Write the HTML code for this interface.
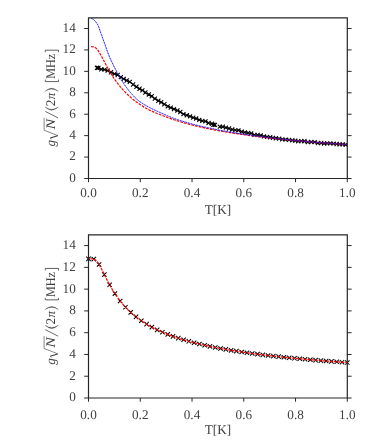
<!DOCTYPE html>
<html>
<head>
<meta charset="utf-8">
<title>g sqrt(N) vs T</title>
<style>
html, body { margin: 0; padding: 0; background: #ffffff; }
body { width: 374px; height: 442px; overflow: hidden; font-family: "Liberation Serif", serif; }
svg { display: block; }
svg text { font-family: "Liberation Serif", serif; font-size: 13.2px; fill: #414141; text-rendering: geometricPrecision; }
</style>
</head>
<body>
<svg width="374" height="442" viewBox="0 0 374 442">
<rect x="0" y="0" width="374" height="442" fill="#ffffff"/>
<!-- top panel -->
<clipPath id="c1"><rect x="88.5" y="17.9" width="258.8" height="160.6"/></clipPath>
<g clip-path="url(#c1)" fill="none">
<path d="M97 67.8 L98.4 67.81 L101.25 69.26 L104.6 69.61 L107.71 70.68 L111.01 72.26 L114.5 73.81 L117.67 75.03 L120.82 77.06 L123.68 78.91 L126.66 80.46 L129.81 81.85 L133.09 84.52 L136.45 86.74 L139.52 88.78 L142.36 90.4 L145.37 92.53 L148.8 94.45 L151.75 96.28 L154.87 98.62 L158.32 100.76 L161.14 102.25 L164.36 104.27 L167.82 106.33 L170.78 107.63 L173.97 109.1 L177.4 110.51 L180.3 112.03 L183.46 114.17 L186.79 115.25 L190.06 116.39 L193.19 117.67 L196.13 118.55 L199.27 119.87 L202.33 120.83 L205.47 121.35 L208.52 122.97 L211.91 123.72 L213.41 124.77 L214.91 124.83 M219.8 126.65 L222.79 126.77 L225.91 127.6 L228.96 128.51 L232.22 129.49 L235.28 130.07 L238.4 130.34 L241.7 131.66 L244.79 132.35 L248.23 132.89 L251.15 133.39 L254.47 134.81 L257.57 134.84 L260.66 135.34 L263.91 136.41 L267.07 136.82 L270.17 137.24 L272.97 137.9 L275.83 138.22 L279.13 138.69 L282.29 139.37 L285.58 139.68 L289.05 139.92 L292.33 140.42 L295.17 140.69 L298.18 141.23 L301.4 141.15 L304.36 141.2 L307.84 142.1 L311.3 142 L314.69 142.14 L317.82 143.1 L321.21 143 L324.1 143.51 L327.12 143.37 L330.24 143.39 L333.56 143.57 L336.7 144.01 L339.6 144.28 L342.64 144.33 L345.67 144.7" stroke="#000" stroke-width="0.95" stroke-linejoin="round"/>
<path d="M94.95 65.75 L99.05 69.85 M94.95 69.85 L99.05 65.75 M96.35 65.76 L100.45 69.86 M96.35 69.86 L100.45 65.76 M99.2 67.21 L103.3 71.31 M99.2 71.31 L103.3 67.21 M102.55 67.56 L106.65 71.66 M102.55 71.66 L106.65 67.56 M105.66 68.63 L109.76 72.73 M105.66 72.73 L109.76 68.63 M108.96 70.21 L113.06 74.31 M108.96 74.31 L113.06 70.21 M112.45 71.76 L116.55 75.86 M112.45 75.86 L116.55 71.76 M115.62 72.98 L119.72 77.08 M115.62 77.08 L119.72 72.98 M118.77 75.01 L122.87 79.11 M118.77 79.11 L122.87 75.01 M121.63 76.86 L125.73 80.96 M121.63 80.96 L125.73 76.86 M124.61 78.41 L128.71 82.51 M124.61 82.51 L128.71 78.41 M127.76 79.8 L131.86 83.9 M127.76 83.9 L131.86 79.8 M131.04 82.47 L135.14 86.57 M131.04 86.57 L135.14 82.47 M134.4 84.69 L138.5 88.79 M134.4 88.79 L138.5 84.69 M137.47 86.73 L141.57 90.83 M137.47 90.83 L141.57 86.73 M140.31 88.35 L144.41 92.45 M140.31 92.45 L144.41 88.35 M143.32 90.48 L147.42 94.58 M143.32 94.58 L147.42 90.48 M146.75 92.4 L150.85 96.5 M146.75 96.5 L150.85 92.4 M149.7 94.23 L153.8 98.33 M149.7 98.33 L153.8 94.23 M152.82 96.57 L156.92 100.67 M152.82 100.67 L156.92 96.57 M156.27 98.71 L160.37 102.81 M156.27 102.81 L160.37 98.71 M159.09 100.2 L163.19 104.3 M159.09 104.3 L163.19 100.2 M162.31 102.22 L166.41 106.32 M162.31 106.32 L166.41 102.22 M165.77 104.28 L169.87 108.38 M165.77 108.38 L169.87 104.28 M168.73 105.58 L172.83 109.68 M168.73 109.68 L172.83 105.58 M171.92 107.05 L176.02 111.15 M171.92 111.15 L176.02 107.05 M175.35 108.46 L179.45 112.56 M175.35 112.56 L179.45 108.46 M178.25 109.98 L182.35 114.08 M178.25 114.08 L182.35 109.98 M181.41 112.12 L185.51 116.22 M181.41 116.22 L185.51 112.12 M184.74 113.2 L188.84 117.3 M184.74 117.3 L188.84 113.2 M188.01 114.34 L192.11 118.44 M188.01 118.44 L192.11 114.34 M191.14 115.62 L195.24 119.72 M191.14 119.72 L195.24 115.62 M194.08 116.5 L198.18 120.6 M194.08 120.6 L198.18 116.5 M197.22 117.82 L201.32 121.92 M197.22 121.92 L201.32 117.82 M200.28 118.78 L204.38 122.88 M200.28 122.88 L204.38 118.78 M203.42 119.3 L207.52 123.4 M203.42 123.4 L207.52 119.3 M206.47 120.92 L210.57 125.02 M206.47 125.02 L210.57 120.92 M209.86 121.67 L213.96 125.77 M209.86 125.77 L213.96 121.67 M211.36 122.72 L215.46 126.82 M211.36 126.82 L215.46 122.72 M212.86 122.78 L216.96 126.88 M212.86 126.88 L216.96 122.78 M217.75 124.6 L221.85 128.7 M217.75 128.7 L221.85 124.6 M220.74 124.72 L224.84 128.82 M220.74 128.82 L224.84 124.72 M223.86 125.55 L227.96 129.65 M223.86 129.65 L227.96 125.55 M226.91 126.46 L231.01 130.56 M226.91 130.56 L231.01 126.46 M230.17 127.44 L234.27 131.54 M230.17 131.54 L234.27 127.44 M233.23 128.02 L237.33 132.12 M233.23 132.12 L237.33 128.02 M236.35 128.29 L240.45 132.39 M236.35 132.39 L240.45 128.29 M239.65 129.61 L243.75 133.71 M239.65 133.71 L243.75 129.61 M242.74 130.3 L246.84 134.4 M242.74 134.4 L246.84 130.3 M246.18 130.84 L250.28 134.94 M246.18 134.94 L250.28 130.84 M249.1 131.34 L253.2 135.44 M249.1 135.44 L253.2 131.34 M252.42 132.76 L256.52 136.86 M252.42 136.86 L256.52 132.76 M255.52 132.79 L259.62 136.89 M255.52 136.89 L259.62 132.79 M258.61 133.29 L262.71 137.39 M258.61 137.39 L262.71 133.29 M261.86 134.36 L265.96 138.46 M261.86 138.46 L265.96 134.36 M265.02 134.77 L269.12 138.87 M265.02 138.87 L269.12 134.77 M268.12 135.19 L272.22 139.29 M268.12 139.29 L272.22 135.19 M270.92 135.85 L275.02 139.95 M270.92 139.95 L275.02 135.85 M273.78 136.17 L277.88 140.27 M273.78 140.27 L277.88 136.17 M277.08 136.64 L281.18 140.74 M277.08 140.74 L281.18 136.64 M280.24 137.32 L284.34 141.42 M280.24 141.42 L284.34 137.32 M283.53 137.63 L287.63 141.73 M283.53 141.73 L287.63 137.63 M287 137.87 L291.1 141.97 M287 141.97 L291.1 137.87 M290.28 138.37 L294.38 142.47 M290.28 142.47 L294.38 138.37 M293.12 138.64 L297.22 142.74 M293.12 142.74 L297.22 138.64 M296.13 139.18 L300.23 143.28 M296.13 143.28 L300.23 139.18 M299.35 139.1 L303.45 143.2 M299.35 143.2 L303.45 139.1 M302.31 139.15 L306.41 143.25 M302.31 143.25 L306.41 139.15 M305.79 140.05 L309.89 144.15 M305.79 144.15 L309.89 140.05 M309.25 139.95 L313.35 144.05 M309.25 144.05 L313.35 139.95 M312.64 140.09 L316.74 144.19 M312.64 144.19 L316.74 140.09 M315.77 141.05 L319.87 145.15 M315.77 145.15 L319.87 141.05 M319.16 140.95 L323.26 145.05 M319.16 145.05 L323.26 140.95 M322.05 141.46 L326.15 145.56 M322.05 145.56 L326.15 141.46 M325.07 141.32 L329.17 145.42 M325.07 145.42 L329.17 141.32 M328.19 141.34 L332.29 145.44 M328.19 145.44 L332.29 141.34 M331.51 141.52 L335.61 145.62 M331.51 145.62 L335.61 141.52 M334.65 141.96 L338.75 146.06 M334.65 146.06 L338.75 141.96 M337.55 142.23 L341.65 146.33 M337.55 146.33 L341.65 142.23 M340.59 142.28 L344.69 146.38 M340.59 146.38 L344.69 142.28 M343.62 142.65 L347.72 146.75 M343.62 146.75 L347.72 142.65" stroke="#000" stroke-width="1.08"/>
<path d="M91.09 46.71 L91.73 46.72 L92.37 46.74 L93.01 46.79 L93.66 46.91 L94.3 47.11 L94.94 47.42 L95.58 47.85 L96.23 48.4 L96.87 49.06 L97.51 49.83 L98.15 50.69 L98.79 51.64 L99.44 52.66 L100.08 53.74 L100.72 54.86 L101.36 56.02 L102 57.21 L102.65 58.42 L103.29 59.63 L103.93 60.85 L104.57 62.07 L105.21 63.29 L105.86 64.5 L106.5 65.69 L107.14 66.87 L107.78 68.04 L108.43 69.19 L109.07 70.31 L109.71 71.42 L110.35 72.51 L110.99 73.58 L111.64 74.63 L112.28 75.65 L112.92 76.65 L113.56 77.64 L114.2 78.6 L114.85 79.54 L115.49 80.46 L116.13 81.36 L116.77 82.25 L117.42 83.11 L118.06 83.95 L118.7 84.78 L119.34 85.59 L119.98 86.38 L120.63 87.15 L121.27 87.91 L121.91 88.65 L122.55 89.37 L123.19 90.08 L123.84 90.78 L124.48 91.46 L125.12 92.13 L125.76 92.78 L126.41 93.42 L127.05 94.05 L127.69 94.66 L128.33 95.27 L128.97 95.86 L129.62 96.44 L130.26 97.01 L130.9 97.57 L131.54 98.11 L132.18 98.65 L132.83 99.18 L133.47 99.7 L134.11 100.21 L134.75 100.71 L135.4 101.2 L136.04 101.68 L136.68 102.15 L137.32 102.62 L137.96 103.08 L138.61 103.53 L139.25 103.97 L139.89 104.4 L140.53 104.83 L141.17 105.25 L141.82 105.67 L142.46 106.07 L143.1 106.47 L143.74 106.87 L144.39 107.26 L145.03 107.64 L145.67 108.02 L146.31 108.38 L146.95 108.74 L147.6 109.09 L148.24 109.43 L148.88 109.76 L149.52 110.09 L150.16 110.4 L150.81 110.71 L151.45 111.02 L152.09 111.31 L152.73 111.6 L153.38 111.89 L154.02 112.17 L154.66 112.45 L155.3 112.72 L155.94 112.98 L156.59 113.25 L157.23 113.51 L157.87 113.77 L158.51 114.02 L159.15 114.27 L159.8 114.53 L160.44 114.77 L161.08 115.02 L161.72 115.27 L162.37 115.51 L163.01 115.76 L163.65 116 L164.29 116.25 L164.93 116.49 L165.58 116.74 L166.22 116.98 L166.86 117.23 L167.5 117.47 L168.14 117.71 L168.79 117.95 L169.43 118.18 L170.07 118.41 L170.71 118.64 L171.35 118.86 L172 119.09 L172.64 119.31 L173.28 119.53 L173.92 119.74 L174.57 119.96 L175.21 120.17 L175.85 120.38 L176.49 120.58 L177.13 120.79 L177.78 120.99 L178.42 121.19 L179.06 121.39 L179.7 121.59 L180.34 121.78 L180.99 121.98 L181.63 122.17 L182.27 122.36 L182.91 122.54 L183.56 122.73 L184.2 122.91 L184.84 123.09 L185.48 123.27 L186.12 123.45 L186.77 123.63 L187.41 123.8 L188.05 123.98 L188.69 124.15 L189.33 124.32 L189.98 124.49 L190.62 124.65 L191.26 124.82 L191.9 124.98 L192.55 125.14 L193.19 125.31 L193.83 125.46 L194.47 125.62 L195.11 125.78 L195.76 125.93 L196.4 126.09 L197.04 126.24 L197.68 126.39 L198.32 126.54 L198.97 126.69 L199.61 126.84 L200.25 126.99 L200.89 127.13 L201.54 127.27 L202.18 127.42 L202.82 127.56 L203.46 127.7 L204.1 127.84 L204.75 127.98 L205.39 128.11 L206.03 128.25 L206.67 128.38 L207.31 128.52 L207.96 128.65 L208.6 128.78 L209.24 128.91 L209.88 129.04 L210.53 129.17 L211.17 129.3 L211.81 129.43 L212.45 129.55 L213.09 129.68 L213.74 129.8 L214.38 129.92 L215.02 130.04 L215.66 130.16 L216.3 130.29 L216.95 130.4 L217.59 130.52 L218.23 130.64 L218.87 130.76 L219.52 130.87 L220.16 130.99 L220.8 131.1 L221.44 131.22 L222.08 131.33 L222.73 131.44 L223.37 131.55 L224.01 131.66 L224.65 131.77 L225.29 131.88 L225.94 131.99 L226.58 132.09 L227.22 132.2 L227.86 132.31 L228.5 132.41 L229.15 132.52 L229.79 132.62 L230.43 132.72 L231.07 132.82 L231.72 132.93 L232.36 133.03 L233 133.13 L233.64 133.23 L234.28 133.32 L234.93 133.42 L235.57 133.52 L236.21 133.62 L236.85 133.71 L237.49 133.81 L238.14 133.9 L238.78 134 L239.42 134.09 L240.06 134.19 L240.71 134.28 L241.35 134.37 L241.99 134.46 L242.63 134.55 L243.27 134.64 L243.92 134.73 L244.56 134.82 L245.2 134.91 L245.84 135 L246.48 135.09 L247.13 135.18 L247.77 135.26 L248.41 135.35 L249.05 135.44 L249.7 135.52 L250.34 135.61 L250.98 135.69 L251.62 135.77 L252.26 135.86 L252.91 135.94 L253.55 136.02 L254.19 136.1 L254.83 136.18 L255.47 136.27 L256.12 136.35 L256.76 136.43 L257.4 136.51 L258.04 136.58 L258.69 136.66 L259.33 136.74 L259.97 136.82 L260.61 136.9 L261.25 136.97 L261.9 137.05 L262.54 137.13 L263.18 137.2 L263.82 137.28 L264.46 137.35 L265.11 137.43 L265.75 137.5 L266.39 137.57 L267.03 137.65 L267.68 137.72 L268.32 137.79 L268.96 137.86 L269.6 137.94 L270.24 138.01 L270.89 138.08 L271.53 138.15 L272.17 138.22 L272.81 138.29 L273.45 138.36 L274.1 138.43 L274.74 138.5 L275.38 138.56 L276.02 138.63 L276.67 138.7 L277.31 138.77 L277.95 138.83 L278.59 138.9 L279.23 138.97 L279.88 139.03 L280.52 139.1 L281.16 139.16 L281.8 139.23 L282.44 139.29 L283.09 139.36 L283.73 139.42 L284.37 139.49 L285.01 139.55 L285.66 139.61 L286.3 139.68 L286.94 139.74 L287.58 139.8 L288.22 139.86 L288.87 139.92 L289.51 139.99 L290.15 140.05 L290.79 140.11 L291.43 140.17 L292.08 140.23 L292.72 140.29 L293.36 140.35 L294 140.41 L294.64 140.47 L295.29 140.52 L295.93 140.58 L296.57 140.64 L297.21 140.7 L297.86 140.76 L298.5 140.81 L299.14 140.87 L299.78 140.93 L300.42 140.99 L301.07 141.04 L301.71 141.1 L302.35 141.15 L302.99 141.21 L303.63 141.27 L304.28 141.32 L304.92 141.38 L305.56 141.43 L306.2 141.49 L306.85 141.54 L307.49 141.59 L308.13 141.65 L308.77 141.7 L309.41 141.75 L310.06 141.81 L310.7 141.86 L311.34 141.91 L311.98 141.96 L312.62 142.02 L313.27 142.07 L313.91 142.12 L314.55 142.17 L315.19 142.22 L315.84 142.27 L316.48 142.33 L317.12 142.38 L317.76 142.43 L318.4 142.48 L319.05 142.53 L319.69 142.58 L320.33 142.63 L320.97 142.68 L321.61 142.72 L322.26 142.77 L322.9 142.82 L323.54 142.87 L324.18 142.92 L324.83 142.97 L325.47 143.02 L326.11 143.06 L326.75 143.11 L327.39 143.16 L328.04 143.21 L328.68 143.25 L329.32 143.3 L329.96 143.35 L330.6 143.39 L331.25 143.44 L331.89 143.49 L332.53 143.53 L333.17 143.58 L333.82 143.62 L334.46 143.67 L335.1 143.71 L335.74 143.76 L336.38 143.8 L337.03 143.85 L337.67 143.89 L338.31 143.94 L338.95 143.98 L339.59 144.03 L340.24 144.07 L340.88 144.11 L341.52 144.16 L342.16 144.2 L342.81 144.24 L343.45 144.29 L344.09 144.33 L344.73 144.37 L345.37 144.41 L346.02 144.46 L346.66 144.5 L347.3 144.54" stroke="#ff0000" stroke-width="1.2" stroke-dasharray="2.7 1.1"/>
<path d="M91.09 18.23 L91.73 18.58 L92.37 18.87 L93.01 19.19 L93.66 19.64 L94.3 20.23 L94.94 20.91 L95.58 21.65 L96.23 22.46 L96.87 23.37 L97.51 24.41 L98.15 25.6 L98.79 27.15 L99.44 28.98 L100.08 30.9 L100.72 32.73 L101.36 34.49 L102 36.26 L102.65 38.02 L103.29 39.79 L103.93 41.57 L104.57 43.35 L105.21 45.15 L105.86 47 L106.5 48.87 L107.14 50.71 L107.78 52.5 L108.43 54.21 L109.07 55.8 L109.71 57.32 L110.35 58.78 L110.99 60.19 L111.64 61.57 L112.28 62.92 L112.92 64.26 L113.56 65.56 L114.2 66.83 L114.85 68.07 L115.49 69.3 L116.13 70.51 L116.77 71.71 L117.42 72.91 L118.06 74.11 L118.7 75.28 L119.34 76.44 L119.98 77.58 L120.63 78.68 L121.27 79.74 L121.91 80.78 L122.55 81.8 L123.19 82.8 L123.84 83.77 L124.48 84.71 L125.12 85.63 L125.76 86.52 L126.41 87.4 L127.05 88.26 L127.69 89.1 L128.33 89.92 L128.97 90.73 L129.62 91.52 L130.26 92.29 L130.9 93.04 L131.54 93.78 L132.18 94.49 L132.83 95.2 L133.47 95.9 L134.11 96.58 L134.75 97.26 L135.4 97.91 L136.04 98.53 L136.68 99.13 L137.32 99.7 L137.96 100.22 L138.61 100.72 L139.25 101.2 L139.89 101.67 L140.53 102.12 L141.17 102.56 L141.82 102.99 L142.46 103.4 L143.1 103.81 L143.74 104.21 L144.39 104.59 L145.03 104.97 L145.67 105.34 L146.31 105.71 L146.95 106.07 L147.6 106.42 L148.24 106.77 L148.88 107.12 L149.52 107.47 L150.16 107.81 L150.81 108.15 L151.45 108.48 L152.09 108.81 L152.73 109.13 L153.38 109.44 L154.02 109.75 L154.66 110.06 L155.3 110.36 L155.94 110.66 L156.59 110.96 L157.23 111.25 L157.87 111.54 L158.51 111.83 L159.15 112.11 L159.8 112.4 L160.44 112.68 L161.08 112.97 L161.72 113.25 L162.37 113.54 L163.01 113.82 L163.65 114.11 L164.29 114.39 L164.93 114.68 L165.58 114.96 L166.22 115.25 L166.86 115.53 L167.5 115.81 L168.14 116.08 L168.79 116.36 L169.43 116.63 L170.07 116.89 L170.71 117.15 L171.35 117.41 L172 117.67 L172.64 117.91 L173.28 118.15 L173.92 118.39 L174.57 118.62 L175.21 118.85 L175.85 119.07 L176.49 119.29 L177.13 119.5 L177.78 119.71 L178.42 119.92 L179.06 120.12 L179.7 120.32 L180.34 120.52 L180.99 120.72 L181.63 120.92 L182.27 121.11 L182.91 121.3 L183.56 121.5 L184.2 121.69 L184.84 121.87 L185.48 122.06 L186.12 122.25 L186.77 122.44 L187.41 122.63 L188.05 122.82 L188.69 123 L189.33 123.19 L189.98 123.37 L190.62 123.55 L191.26 123.73 L191.9 123.91 L192.55 124.09 L193.19 124.27 L193.83 124.44 L194.47 124.61 L195.11 124.78 L195.76 124.95 L196.4 125.12 L197.04 125.28 L197.68 125.44 L198.32 125.6 L198.97 125.75 L199.61 125.9 L200.25 126.05 L200.89 126.2 L201.54 126.35 L202.18 126.49 L202.82 126.64 L203.46 126.78 L204.1 126.92 L204.75 127.06 L205.39 127.2 L206.03 127.33 L206.67 127.47 L207.31 127.61 L207.96 127.74 L208.6 127.87 L209.24 128.01 L209.88 128.14 L210.53 128.27 L211.17 128.41 L211.81 128.54 L212.45 128.67 L213.09 128.81 L213.74 128.94 L214.38 129.07 L215.02 129.2 L215.66 129.33 L216.3 129.46 L216.95 129.59 L217.59 129.72 L218.23 129.85 L218.87 129.98 L219.52 130.11 L220.16 130.23 L220.8 130.36 L221.44 130.49 L222.08 130.61 L222.73 130.73 L223.37 130.85 L224.01 130.98 L224.65 131.1 L225.29 131.22 L225.94 131.33 L226.58 131.45 L227.22 131.57 L227.86 131.68 L228.5 131.79 L229.15 131.91 L229.79 132.02 L230.43 132.13 L231.07 132.23 L231.72 132.34 L232.36 132.45 L233 132.56 L233.64 132.66 L234.28 132.77 L234.93 132.87 L235.57 132.98 L236.21 133.08 L236.85 133.19 L237.49 133.29 L238.14 133.39 L238.78 133.49 L239.42 133.6 L240.06 133.7 L240.71 133.8 L241.35 133.9 L241.99 134 L242.63 134.09 L243.27 134.19 L243.92 134.29 L244.56 134.39 L245.2 134.48 L245.84 134.58 L246.48 134.67 L247.13 134.77 L247.77 134.86 L248.41 134.95 L249.05 135.05 L249.7 135.14 L250.34 135.23 L250.98 135.32 L251.62 135.41 L252.26 135.5 L252.91 135.59 L253.55 135.67 L254.19 135.76 L254.83 135.85 L255.47 135.93 L256.12 136.02 L256.76 136.1 L257.4 136.19 L258.04 136.27 L258.69 136.36 L259.33 136.44 L259.97 136.52 L260.61 136.6 L261.25 136.68 L261.9 136.76 L262.54 136.84 L263.18 136.92 L263.82 137 L264.46 137.08 L265.11 137.15 L265.75 137.23 L266.39 137.31 L267.03 137.39 L267.68 137.46 L268.32 137.54 L268.96 137.62 L269.6 137.69 L270.24 137.77 L270.89 137.84 L271.53 137.92 L272.17 137.99 L272.81 138.06 L273.45 138.14 L274.1 138.21 L274.74 138.28 L275.38 138.35 L276.02 138.43 L276.67 138.5 L277.31 138.57 L277.95 138.64 L278.59 138.71 L279.23 138.78 L279.88 138.85 L280.52 138.92 L281.16 138.99 L281.8 139.05 L282.44 139.12 L283.09 139.19 L283.73 139.26 L284.37 139.32 L285.01 139.39 L285.66 139.46 L286.3 139.52 L286.94 139.59 L287.58 139.65 L288.22 139.72 L288.87 139.78 L289.51 139.85 L290.15 139.91 L290.79 139.98 L291.43 140.04 L292.08 140.1 L292.72 140.16 L293.36 140.23 L294 140.29 L294.64 140.35 L295.29 140.41 L295.93 140.47 L296.57 140.53 L297.21 140.59 L297.86 140.65 L298.5 140.71 L299.14 140.77 L299.78 140.83 L300.42 140.89 L301.07 140.95 L301.71 141 L302.35 141.06 L302.99 141.12 L303.63 141.18 L304.28 141.23 L304.92 141.29 L305.56 141.35 L306.2 141.41 L306.85 141.46 L307.49 141.52 L308.13 141.57 L308.77 141.63 L309.41 141.69 L310.06 141.74 L310.7 141.8 L311.34 141.85 L311.98 141.91 L312.62 141.96 L313.27 142.02 L313.91 142.07 L314.55 142.13 L315.19 142.18 L315.84 142.23 L316.48 142.29 L317.12 142.34 L317.76 142.39 L318.4 142.45 L319.05 142.5 L319.69 142.55 L320.33 142.6 L320.97 142.65 L321.61 142.71 L322.26 142.76 L322.9 142.81 L323.54 142.86 L324.18 142.91 L324.83 142.96 L325.47 143.01 L326.11 143.06 L326.75 143.11 L327.39 143.16 L328.04 143.21 L328.68 143.26 L329.32 143.3 L329.96 143.35 L330.6 143.4 L331.25 143.45 L331.89 143.5 L332.53 143.54 L333.17 143.59 L333.82 143.64 L334.46 143.68 L335.1 143.73 L335.74 143.77 L336.38 143.82 L337.03 143.86 L337.67 143.91 L338.31 143.95 L338.95 144 L339.59 144.04 L340.24 144.08 L340.88 144.13 L341.52 144.17 L342.16 144.21 L342.81 144.25 L343.45 144.3 L344.09 144.34 L344.73 144.38 L345.37 144.42 L346.02 144.46 L346.66 144.5 L347.3 144.54" stroke="#2020ff" stroke-width="1.0" opacity="0.38"/>
<path d="M91.09 18.23 L91.73 18.58 L92.37 18.87 L93.01 19.19 L93.66 19.64 L94.3 20.23 L94.94 20.91 L95.58 21.65 L96.23 22.46 L96.87 23.37 L97.51 24.41 L98.15 25.6 L98.79 27.15 L99.44 28.98 L100.08 30.9 L100.72 32.73 L101.36 34.49 L102 36.26 L102.65 38.02 L103.29 39.79 L103.93 41.57 L104.57 43.35 L105.21 45.15 L105.86 47 L106.5 48.87 L107.14 50.71 L107.78 52.5 L108.43 54.21 L109.07 55.8 L109.71 57.32 L110.35 58.78 L110.99 60.19 L111.64 61.57 L112.28 62.92 L112.92 64.26 L113.56 65.56 L114.2 66.83 L114.85 68.07 L115.49 69.3 L116.13 70.51 L116.77 71.71 L117.42 72.91 L118.06 74.11 L118.7 75.28 L119.34 76.44 L119.98 77.58 L120.63 78.68 L121.27 79.74 L121.91 80.78 L122.55 81.8 L123.19 82.8 L123.84 83.77 L124.48 84.71 L125.12 85.63 L125.76 86.52 L126.41 87.4 L127.05 88.26 L127.69 89.1 L128.33 89.92 L128.97 90.73 L129.62 91.52 L130.26 92.29 L130.9 93.04 L131.54 93.78 L132.18 94.49 L132.83 95.2 L133.47 95.9 L134.11 96.58 L134.75 97.26 L135.4 97.91 L136.04 98.53 L136.68 99.13 L137.32 99.7 L137.96 100.22 L138.61 100.72 L139.25 101.2 L139.89 101.67 L140.53 102.12 L141.17 102.56 L141.82 102.99 L142.46 103.4 L143.1 103.81 L143.74 104.21 L144.39 104.59 L145.03 104.97 L145.67 105.34 L146.31 105.71 L146.95 106.07 L147.6 106.42 L148.24 106.77 L148.88 107.12 L149.52 107.47 L150.16 107.81 L150.81 108.15 L151.45 108.48 L152.09 108.81 L152.73 109.13 L153.38 109.44 L154.02 109.75 L154.66 110.06 L155.3 110.36 L155.94 110.66 L156.59 110.96 L157.23 111.25 L157.87 111.54 L158.51 111.83 L159.15 112.11 L159.8 112.4 L160.44 112.68 L161.08 112.97 L161.72 113.25 L162.37 113.54 L163.01 113.82 L163.65 114.11 L164.29 114.39 L164.93 114.68 L165.58 114.96 L166.22 115.25 L166.86 115.53 L167.5 115.81 L168.14 116.08 L168.79 116.36 L169.43 116.63 L170.07 116.89 L170.71 117.15 L171.35 117.41 L172 117.67 L172.64 117.91 L173.28 118.15 L173.92 118.39 L174.57 118.62 L175.21 118.85 L175.85 119.07 L176.49 119.29 L177.13 119.5 L177.78 119.71 L178.42 119.92 L179.06 120.12 L179.7 120.32 L180.34 120.52 L180.99 120.72 L181.63 120.92 L182.27 121.11 L182.91 121.3 L183.56 121.5 L184.2 121.69 L184.84 121.87 L185.48 122.06 L186.12 122.25 L186.77 122.44 L187.41 122.63 L188.05 122.82 L188.69 123 L189.33 123.19 L189.98 123.37 L190.62 123.55 L191.26 123.73 L191.9 123.91 L192.55 124.09 L193.19 124.27 L193.83 124.44 L194.47 124.61 L195.11 124.78 L195.76 124.95 L196.4 125.12 L197.04 125.28 L197.68 125.44 L198.32 125.6 L198.97 125.75 L199.61 125.9 L200.25 126.05 L200.89 126.2 L201.54 126.35 L202.18 126.49 L202.82 126.64 L203.46 126.78 L204.1 126.92 L204.75 127.06 L205.39 127.2 L206.03 127.33 L206.67 127.47 L207.31 127.61 L207.96 127.74 L208.6 127.87 L209.24 128.01 L209.88 128.14 L210.53 128.27 L211.17 128.41 L211.81 128.54 L212.45 128.67 L213.09 128.81 L213.74 128.94 L214.38 129.07 L215.02 129.2 L215.66 129.33 L216.3 129.46 L216.95 129.59 L217.59 129.72 L218.23 129.85 L218.87 129.98 L219.52 130.11 L220.16 130.23 L220.8 130.36 L221.44 130.49 L222.08 130.61 L222.73 130.73 L223.37 130.85 L224.01 130.98 L224.65 131.1 L225.29 131.22 L225.94 131.33 L226.58 131.45 L227.22 131.57 L227.86 131.68 L228.5 131.79 L229.15 131.91 L229.79 132.02 L230.43 132.13 L231.07 132.23 L231.72 132.34 L232.36 132.45 L233 132.56 L233.64 132.66 L234.28 132.77 L234.93 132.87 L235.57 132.98 L236.21 133.08 L236.85 133.19 L237.49 133.29 L238.14 133.39 L238.78 133.49 L239.42 133.6 L240.06 133.7 L240.71 133.8 L241.35 133.9 L241.99 134 L242.63 134.09 L243.27 134.19 L243.92 134.29 L244.56 134.39 L245.2 134.48 L245.84 134.58 L246.48 134.67 L247.13 134.77 L247.77 134.86 L248.41 134.95 L249.05 135.05 L249.7 135.14 L250.34 135.23 L250.98 135.32 L251.62 135.41 L252.26 135.5 L252.91 135.59 L253.55 135.67 L254.19 135.76 L254.83 135.85 L255.47 135.93 L256.12 136.02 L256.76 136.1 L257.4 136.19 L258.04 136.27 L258.69 136.36 L259.33 136.44 L259.97 136.52 L260.61 136.6 L261.25 136.68 L261.9 136.76 L262.54 136.84 L263.18 136.92 L263.82 137 L264.46 137.08 L265.11 137.15 L265.75 137.23 L266.39 137.31 L267.03 137.39 L267.68 137.46 L268.32 137.54 L268.96 137.62 L269.6 137.69 L270.24 137.77 L270.89 137.84 L271.53 137.92 L272.17 137.99 L272.81 138.06 L273.45 138.14 L274.1 138.21 L274.74 138.28 L275.38 138.35 L276.02 138.43 L276.67 138.5 L277.31 138.57 L277.95 138.64 L278.59 138.71 L279.23 138.78 L279.88 138.85 L280.52 138.92 L281.16 138.99 L281.8 139.05 L282.44 139.12 L283.09 139.19 L283.73 139.26 L284.37 139.32 L285.01 139.39 L285.66 139.46 L286.3 139.52 L286.94 139.59 L287.58 139.65 L288.22 139.72 L288.87 139.78 L289.51 139.85 L290.15 139.91 L290.79 139.98 L291.43 140.04 L292.08 140.1 L292.72 140.16 L293.36 140.23 L294 140.29 L294.64 140.35 L295.29 140.41 L295.93 140.47 L296.57 140.53 L297.21 140.59 L297.86 140.65 L298.5 140.71 L299.14 140.77 L299.78 140.83 L300.42 140.89 L301.07 140.95 L301.71 141 L302.35 141.06 L302.99 141.12 L303.63 141.18 L304.28 141.23 L304.92 141.29 L305.56 141.35 L306.2 141.41 L306.85 141.46 L307.49 141.52 L308.13 141.57 L308.77 141.63 L309.41 141.69 L310.06 141.74 L310.7 141.8 L311.34 141.85 L311.98 141.91 L312.62 141.96 L313.27 142.02 L313.91 142.07 L314.55 142.13 L315.19 142.18 L315.84 142.23 L316.48 142.29 L317.12 142.34 L317.76 142.39 L318.4 142.45 L319.05 142.5 L319.69 142.55 L320.33 142.6 L320.97 142.65 L321.61 142.71 L322.26 142.76 L322.9 142.81 L323.54 142.86 L324.18 142.91 L324.83 142.96 L325.47 143.01 L326.11 143.06 L326.75 143.11 L327.39 143.16 L328.04 143.21 L328.68 143.26 L329.32 143.3 L329.96 143.35 L330.6 143.4 L331.25 143.45 L331.89 143.5 L332.53 143.54 L333.17 143.59 L333.82 143.64 L334.46 143.68 L335.1 143.73 L335.74 143.77 L336.38 143.82 L337.03 143.86 L337.67 143.91 L338.31 143.95 L338.95 144 L339.59 144.04 L340.24 144.08 L340.88 144.13 L341.52 144.17 L342.16 144.21 L342.81 144.25 L343.45 144.3 L344.09 144.34 L344.73 144.38 L345.37 144.42 L346.02 144.46 L346.66 144.5 L347.3 144.54" stroke="#1010ff" stroke-width="1.0" stroke-dasharray="1.6 1.2" opacity="0.85"/>
</g>
<path d="M88.5 17.4 V179.0 M347.3 17.4 V179.0 M88.0 17.9 H347.8 M88.0 178.5 H347.8" stroke="#262626" stroke-width="1.2" fill="none"/>
<path d="M84.2 178.5 H88.5 M347.3 178.5 H351.6 M84.2 157.07 H88.5 M347.3 157.07 H351.6 M84.2 135.64 H88.5 M347.3 135.64 H351.6 M84.2 114.21 H88.5 M347.3 114.21 H351.6 M84.2 92.79 H88.5 M347.3 92.79 H351.6 M84.2 71.36 H88.5 M347.3 71.36 H351.6 M84.2 49.93 H88.5 M347.3 49.93 H351.6 M84.2 28.5 H88.5 M347.3 28.5 H351.6 M88.5 178.5 V182.2 M140.26 178.5 V182.2 M192.02 178.5 V182.2 M243.78 178.5 V182.2 M295.54 178.5 V182.2 M347.3 178.5 V182.2" stroke="#262626" stroke-width="1.0" fill="none"/>
<g style="mix-blend-mode:multiply">
<text x="75.8" y="181.9" text-anchor="end" font-size="13">0</text>
<text x="75.8" y="160.47" text-anchor="end" font-size="13">2</text>
<text x="75.8" y="139.04" text-anchor="end" font-size="13">4</text>
<text x="75.8" y="117.61" text-anchor="end" font-size="13">6</text>
<text x="75.8" y="96.19" text-anchor="end" font-size="13">8</text>
<text x="75.8" y="74.76" text-anchor="end" font-size="13">10</text>
<text x="75.8" y="53.33" text-anchor="end" font-size="13">12</text>
<text x="75.8" y="31.9" text-anchor="end" font-size="13">14</text>
<text x="88.5" y="197.1" text-anchor="middle">0.0</text>
<text x="140.26" y="197.1" text-anchor="middle">0.2</text>
<text x="192.02" y="197.1" text-anchor="middle">0.4</text>
<text x="243.78" y="197.1" text-anchor="middle">0.6</text>
<text x="295.54" y="197.1" text-anchor="middle">0.8</text>
<text x="347.3" y="197.1" text-anchor="middle">1.0</text>
<text x="217.9" y="214.1" text-anchor="middle">T[K]</text>
<g transform="translate(55.0 146.8) rotate(-90)">
<text x="0.2" y="0" font-style="italic" font-size="13.4">g</text>
<path d="M7.6 -3.7 L8.9 -4.7" stroke="#3a3a3a" stroke-width="0.6" fill="none"/>
<path d="M8.8 -4.7 L11.1 2.6" stroke="#3a3a3a" stroke-width="1.15" fill="none"/>
<path d="M11.1 3.0 L16.6 -10.9 H29.0" stroke="#3a3a3a" stroke-width="0.62" fill="none" stroke-linejoin="miter"/>
<text x="17.3" y="0" font-style="italic" font-size="13.2" textLength="10.6" lengthAdjust="spacingAndGlyphs">N</text>
<path d="M28.9 3.1 L35.4 -9.7" stroke="#3a3a3a" stroke-width="0.75" fill="none"/>
<path d="M39.7 -9.8 Q33.5 -3.3 39.7 3.2 Q35.1 -3.3 39.7 -9.8 Z" fill="#3a3a3a" stroke="#3a3a3a" stroke-width="0.35" stroke-linejoin="round"/>
<text x="40.5" y="0" font-size="13.2">2</text>
<text x="47.5" y="0" font-size="13.6" font-style="italic">π</text>
<path d="M55.6 -9.8 Q61.4 -3.3 55.6 3.2 Q59.8 -3.3 55.6 -9.8 Z" fill="#3a3a3a" stroke="#3a3a3a" stroke-width="0.35" stroke-linejoin="round"/>
<path d="M67.2 -9.7 H65.2 V3.5 H67.2" stroke="#3a3a3a" stroke-width="0.8" fill="none"/>
<text x="68.0" y="0" font-size="13.4" textLength="25.0" lengthAdjust="spacingAndGlyphs">MHz</text>
<path d="M94.6 -9.7 H96.6 V3.5 H94.6" stroke="#3a3a3a" stroke-width="0.8" fill="none"/>
</g>
</g>
<!-- bottom panel -->
<g fill="none">
<path d="M86.3 256.68 L90.7 261.08 M86.3 261.08 L90.7 256.68 M91.58 256.92 L95.98 261.32 M91.58 261.32 L95.98 256.92 M96.86 262.32 L101.26 266.72 M96.86 266.72 L101.26 262.32 M102.14 272.44 L106.54 276.84 M102.14 276.84 L106.54 272.44 M107.43 282.61 L111.83 287.01 M107.43 287.01 L111.83 282.61 M112.71 291.43 L117.11 295.83 M112.71 295.83 L117.11 291.43 M117.99 298.81 L122.39 303.21 M117.99 303.21 L122.39 298.81 M123.27 305 L127.67 309.4 M123.27 309.4 L127.67 305 M128.55 310.23 L132.95 314.63 M128.55 314.63 L132.95 310.23 M133.83 314.7 L138.23 319.1 M133.83 319.1 L138.23 314.7 M139.12 318.57 L143.52 322.97 M139.12 322.97 L143.52 318.57 M144.4 321.96 L148.8 326.36 M144.4 326.36 L148.8 321.96 M149.68 324.95 L154.08 329.35 M149.68 329.35 L154.08 324.95 M154.96 327.62 L159.36 332.02 M154.96 332.02 L159.36 327.62 M160.24 330.01 L164.64 334.41 M160.24 334.41 L164.64 330.01 M165.52 332.17 L169.92 336.57 M165.52 336.57 L169.92 332.17 M170.81 334.13 L175.21 338.53 M170.81 338.53 L175.21 334.13 M176.09 335.93 L180.49 340.33 M176.09 340.33 L180.49 335.93 M181.37 337.58 L185.77 341.98 M181.37 341.98 L185.77 337.58 M186.65 339.1 L191.05 343.5 M186.65 343.5 L191.05 339.1 M191.93 340.52 L196.33 344.92 M191.93 344.92 L196.33 340.52 M197.21 341.83 L201.61 346.23 M197.21 346.23 L201.61 341.83 M202.5 343.05 L206.9 347.45 M202.5 347.45 L206.9 343.05 M207.78 344.19 L212.18 348.59 M207.78 348.59 L212.18 344.19 M213.06 345.27 L217.46 349.67 M213.06 349.67 L217.46 345.27 M218.34 346.28 L222.74 350.68 M218.34 350.68 L222.74 346.28 M223.62 347.23 L228.02 351.63 M223.62 351.63 L228.02 347.23 M228.9 348.13 L233.3 352.53 M228.9 352.53 L233.3 348.13 M234.19 348.98 L238.59 353.38 M234.19 353.38 L238.59 348.98 M239.47 349.79 L243.87 354.19 M239.47 354.19 L243.87 349.79 M244.75 350.56 L249.15 354.96 M244.75 354.96 L249.15 350.56 M250.03 351.29 L254.43 355.69 M250.03 355.69 L254.43 351.29 M255.31 351.98 L259.71 356.38 M255.31 356.38 L259.71 351.98 M260.59 352.65 L264.99 357.05 M260.59 357.05 L264.99 352.65 M265.88 353.28 L270.28 357.68 M265.88 357.68 L270.28 353.28 M271.16 353.89 L275.56 358.29 M271.16 358.29 L275.56 353.89 M276.44 354.47 L280.84 358.87 M276.44 358.87 L280.84 354.47 M281.72 355.03 L286.12 359.43 M281.72 359.43 L286.12 355.03 M287 355.57 L291.4 359.97 M287 359.97 L291.4 355.57 M292.28 356.09 L296.68 360.49 M292.28 360.49 L296.68 356.09 M297.57 356.58 L301.97 360.98 M297.57 360.98 L301.97 356.58 M302.85 357.06 L307.25 361.46 M302.85 361.46 L307.25 357.06 M308.13 357.53 L312.53 361.93 M308.13 361.93 L312.53 357.53 M313.41 357.97 L317.81 362.37 M313.41 362.37 L317.81 357.97 M318.69 358.4 L323.09 362.8 M318.69 362.8 L323.09 358.4 M323.97 358.82 L328.37 363.22 M323.97 363.22 L328.37 358.82 M329.26 359.22 L333.66 363.62 M329.26 363.62 L333.66 359.22 M334.54 359.61 L338.94 364.01 M334.54 364.01 L338.94 359.61 M339.82 359.99 L344.22 364.39 M339.82 364.39 L344.22 359.99 M345.1 360.36 L349.5 364.76 M345.1 364.76 L349.5 360.36" stroke="#000" stroke-width="1.02"/>
<path d="M90.31 258.88 L90.96 258.88 L91.6 258.88 L92.24 258.9 L92.89 258.95 L93.53 259.05 L94.18 259.25 L94.82 259.56 L95.46 259.99 L96.11 260.54 L96.75 261.22 L97.4 262.01 L98.04 262.91 L98.68 263.9 L99.33 264.97 L99.97 266.1 L100.62 267.29 L101.26 268.51 L101.91 269.76 L102.55 271.04 L103.19 272.33 L103.84 273.62 L104.48 274.91 L105.13 276.2 L105.77 277.48 L106.41 278.75 L107.06 280 L107.7 281.24 L108.35 282.45 L108.99 283.65 L109.63 284.83 L110.28 285.98 L110.92 287.11 L111.57 288.23 L112.21 289.31 L112.85 290.38 L113.5 291.42 L114.14 292.44 L114.79 293.44 L115.43 294.42 L116.07 295.38 L116.72 296.31 L117.36 297.23 L118.01 298.12 L118.65 299 L119.3 299.85 L119.94 300.69 L120.58 301.51 L121.23 302.31 L121.87 303.1 L122.52 303.87 L123.16 304.62 L123.8 305.36 L124.45 306.08 L125.09 306.79 L125.74 307.48 L126.38 308.16 L127.02 308.83 L127.67 309.48 L128.31 310.12 L128.96 310.74 L129.6 311.36 L130.24 311.96 L130.89 312.55 L131.53 313.13 L132.18 313.7 L132.82 314.26 L133.47 314.81 L134.11 315.35 L134.75 315.88 L135.4 316.4 L136.04 316.91 L136.69 317.41 L137.33 317.9 L137.97 318.39 L138.62 318.86 L139.26 319.33 L139.91 319.79 L140.55 320.24 L141.19 320.69 L141.84 321.13 L142.48 321.56 L143.13 321.98 L143.77 322.4 L144.41 322.81 L145.06 323.22 L145.7 323.62 L146.35 324.01 L146.99 324.39 L147.63 324.78 L148.28 325.15 L148.92 325.52 L149.57 325.88 L150.21 326.24 L150.86 326.6 L151.5 326.95 L152.14 327.29 L152.79 327.63 L153.43 327.96 L154.08 328.3 L154.72 328.62 L155.36 328.94 L156.01 329.26 L156.65 329.57 L157.3 329.88 L157.94 330.18 L158.58 330.48 L159.23 330.78 L159.87 331.07 L160.52 331.36 L161.16 331.65 L161.8 331.93 L162.45 332.21 L163.09 332.49 L163.74 332.76 L164.38 333.03 L165.03 333.29 L165.67 333.55 L166.31 333.81 L166.96 334.07 L167.6 334.32 L168.25 334.57 L168.89 334.82 L169.53 335.06 L170.18 335.3 L170.82 335.54 L171.47 335.78 L172.11 336.01 L172.75 336.24 L173.4 336.47 L174.04 336.7 L174.69 336.92 L175.33 337.14 L175.97 337.36 L176.62 337.58 L177.26 337.79 L177.91 338.01 L178.55 338.22 L179.19 338.42 L179.84 338.63 L180.48 338.83 L181.13 339.04 L181.77 339.24 L182.42 339.43 L183.06 339.63 L183.7 339.82 L184.35 340.01 L184.99 340.2 L185.64 340.39 L186.28 340.58 L186.92 340.76 L187.57 340.95 L188.21 341.13 L188.86 341.31 L189.5 341.48 L190.14 341.66 L190.79 341.83 L191.43 342.01 L192.08 342.18 L192.72 342.35 L193.36 342.52 L194.01 342.68 L194.65 342.85 L195.3 343.01 L195.94 343.18 L196.58 343.34 L197.23 343.5 L197.87 343.65 L198.52 343.81 L199.16 343.97 L199.81 344.12 L200.45 344.27 L201.09 344.42 L201.74 344.58 L202.38 344.72 L203.03 344.87 L203.67 345.02 L204.31 345.16 L204.96 345.31 L205.6 345.45 L206.25 345.59 L206.89 345.73 L207.53 345.87 L208.18 346.01 L208.82 346.15 L209.47 346.29 L210.11 346.42 L210.75 346.56 L211.4 346.69 L212.04 346.82 L212.69 346.95 L213.33 347.08 L213.98 347.21 L214.62 347.34 L215.26 347.47 L215.91 347.6 L216.55 347.72 L217.2 347.85 L217.84 347.97 L218.48 348.09 L219.13 348.21 L219.77 348.33 L220.42 348.45 L221.06 348.57 L221.7 348.69 L222.35 348.81 L222.99 348.93 L223.64 349.04 L224.28 349.16 L224.92 349.27 L225.57 349.38 L226.21 349.5 L226.86 349.61 L227.5 349.72 L228.14 349.83 L228.79 349.94 L229.43 350.05 L230.08 350.16 L230.72 350.27 L231.37 350.37 L232.01 350.48 L232.65 350.58 L233.3 350.69 L233.94 350.79 L234.59 350.9 L235.23 351 L235.87 351.1 L236.52 351.2 L237.16 351.3 L237.81 351.4 L238.45 351.5 L239.09 351.6 L239.74 351.7 L240.38 351.8 L241.03 351.89 L241.67 351.99 L242.31 352.08 L242.96 352.18 L243.6 352.27 L244.25 352.37 L244.89 352.46 L245.54 352.55 L246.18 352.65 L246.82 352.74 L247.47 352.83 L248.11 352.92 L248.76 353.01 L249.4 353.1 L250.04 353.19 L250.69 353.28 L251.33 353.36 L251.98 353.45 L252.62 353.54 L253.26 353.62 L253.91 353.71 L254.55 353.8 L255.2 353.88 L255.84 353.97 L256.48 354.05 L257.13 354.13 L257.77 354.22 L258.42 354.3 L259.06 354.38 L259.7 354.46 L260.35 354.54 L260.99 354.62 L261.64 354.7 L262.28 354.78 L262.93 354.86 L263.57 354.94 L264.21 355.02 L264.86 355.1 L265.5 355.18 L266.15 355.25 L266.79 355.33 L267.43 355.41 L268.08 355.48 L268.72 355.56 L269.37 355.63 L270.01 355.71 L270.65 355.78 L271.3 355.86 L271.94 355.93 L272.59 356 L273.23 356.08 L273.87 356.15 L274.52 356.22 L275.16 356.29 L275.81 356.36 L276.45 356.44 L277.1 356.51 L277.74 356.58 L278.38 356.65 L279.03 356.72 L279.67 356.78 L280.32 356.85 L280.96 356.92 L281.6 356.99 L282.25 357.06 L282.89 357.13 L283.54 357.19 L284.18 357.26 L284.82 357.33 L285.47 357.39 L286.11 357.46 L286.76 357.52 L287.4 357.59 L288.04 357.65 L288.69 357.72 L289.33 357.78 L289.98 357.85 L290.62 357.91 L291.26 357.97 L291.91 358.04 L292.55 358.1 L293.2 358.16 L293.84 358.23 L294.49 358.29 L295.13 358.35 L295.77 358.41 L296.42 358.47 L297.06 358.53 L297.71 358.59 L298.35 358.65 L298.99 358.71 L299.64 358.77 L300.28 358.83 L300.93 358.89 L301.57 358.95 L302.21 359.01 L302.86 359.07 L303.5 359.13 L304.15 359.18 L304.79 359.24 L305.43 359.3 L306.08 359.36 L306.72 359.41 L307.37 359.47 L308.01 359.53 L308.66 359.58 L309.3 359.64 L309.94 359.69 L310.59 359.75 L311.23 359.8 L311.88 359.86 L312.52 359.91 L313.16 359.97 L313.81 360.02 L314.45 360.08 L315.1 360.13 L315.74 360.18 L316.38 360.24 L317.03 360.29 L317.67 360.34 L318.32 360.39 L318.96 360.45 L319.6 360.5 L320.25 360.55 L320.89 360.6 L321.54 360.65 L322.18 360.71 L322.82 360.76 L323.47 360.81 L324.11 360.86 L324.76 360.91 L325.4 360.96 L326.05 361.01 L326.69 361.06 L327.33 361.11 L327.98 361.16 L328.62 361.21 L329.27 361.26 L329.91 361.31 L330.55 361.35 L331.2 361.4 L331.84 361.45 L332.49 361.5 L333.13 361.55 L333.77 361.6 L334.42 361.64 L335.06 361.69 L335.71 361.74 L336.35 361.78 L336.99 361.83 L337.64 361.88 L338.28 361.92 L338.93 361.97 L339.57 362.02 L340.22 362.06 L340.86 362.11 L341.5 362.15 L342.15 362.2 L342.79 362.24 L343.44 362.29 L344.08 362.33 L344.72 362.38 L345.37 362.42 L346.01 362.47 L346.66 362.51 L347.3 362.56" stroke="#ff0000" stroke-width="1.3" stroke-dasharray="2.8 1.0" opacity="0.96"/>
</g>
<path d="M88.5 234.4 V398.5 M347.3 234.4 V398.5 M88.0 234.9 H347.8 M88.0 398.0 H347.8" stroke="#262626" stroke-width="1.2" fill="none"/>
<path d="M84.2 398 H88.5 M347.3 398 H351.6 M84.2 376.23 H88.5 M347.3 376.23 H351.6 M84.2 354.46 H88.5 M347.3 354.46 H351.6 M84.2 332.69 H88.5 M347.3 332.69 H351.6 M84.2 310.91 H88.5 M347.3 310.91 H351.6 M84.2 289.14 H88.5 M347.3 289.14 H351.6 M84.2 267.37 H88.5 M347.3 267.37 H351.6 M84.2 245.6 H88.5 M347.3 245.6 H351.6 M88.5 398.0 V401.7 M140.26 398.0 V401.7 M192.02 398.0 V401.7 M243.78 398.0 V401.7 M295.54 398.0 V401.7 M347.3 398.0 V401.7" stroke="#262626" stroke-width="1.0" fill="none"/>
<g style="mix-blend-mode:multiply">
<text x="75.8" y="401.4" text-anchor="end" font-size="13">0</text>
<text x="75.8" y="379.63" text-anchor="end" font-size="13">2</text>
<text x="75.8" y="357.86" text-anchor="end" font-size="13">4</text>
<text x="75.8" y="336.09" text-anchor="end" font-size="13">6</text>
<text x="75.8" y="314.31" text-anchor="end" font-size="13">8</text>
<text x="75.8" y="292.54" text-anchor="end" font-size="13">10</text>
<text x="75.8" y="270.77" text-anchor="end" font-size="13">12</text>
<text x="75.8" y="249" text-anchor="end" font-size="13">14</text>
<text x="88.5" y="419.4" text-anchor="middle">0.0</text>
<text x="140.26" y="419.4" text-anchor="middle">0.2</text>
<text x="192.02" y="419.4" text-anchor="middle">0.4</text>
<text x="243.78" y="419.4" text-anchor="middle">0.6</text>
<text x="295.54" y="419.4" text-anchor="middle">0.8</text>
<text x="347.3" y="419.4" text-anchor="middle">1.0</text>
<text x="217.9" y="433.6" text-anchor="middle">T[K]</text>
<g transform="translate(55.0 365.05) rotate(-90)">
<text x="0.2" y="0" font-style="italic" font-size="13.4">g</text>
<path d="M7.6 -3.7 L8.9 -4.7" stroke="#3a3a3a" stroke-width="0.6" fill="none"/>
<path d="M8.8 -4.7 L11.1 2.6" stroke="#3a3a3a" stroke-width="1.15" fill="none"/>
<path d="M11.1 3.0 L16.6 -10.9 H29.0" stroke="#3a3a3a" stroke-width="0.62" fill="none" stroke-linejoin="miter"/>
<text x="17.3" y="0" font-style="italic" font-size="13.2" textLength="10.6" lengthAdjust="spacingAndGlyphs">N</text>
<path d="M28.9 3.1 L35.4 -9.7" stroke="#3a3a3a" stroke-width="0.75" fill="none"/>
<path d="M39.7 -9.8 Q33.5 -3.3 39.7 3.2 Q35.1 -3.3 39.7 -9.8 Z" fill="#3a3a3a" stroke="#3a3a3a" stroke-width="0.35" stroke-linejoin="round"/>
<text x="40.5" y="0" font-size="13.2">2</text>
<text x="47.5" y="0" font-size="13.6" font-style="italic">π</text>
<path d="M55.6 -9.8 Q61.4 -3.3 55.6 3.2 Q59.8 -3.3 55.6 -9.8 Z" fill="#3a3a3a" stroke="#3a3a3a" stroke-width="0.35" stroke-linejoin="round"/>
<path d="M67.2 -9.7 H65.2 V3.5 H67.2" stroke="#3a3a3a" stroke-width="0.8" fill="none"/>
<text x="68.0" y="0" font-size="13.4" textLength="25.0" lengthAdjust="spacingAndGlyphs">MHz</text>
<path d="M94.6 -9.7 H96.6 V3.5 H94.6" stroke="#3a3a3a" stroke-width="0.8" fill="none"/>
</g>
</g>
</svg>
</body>
</html>
